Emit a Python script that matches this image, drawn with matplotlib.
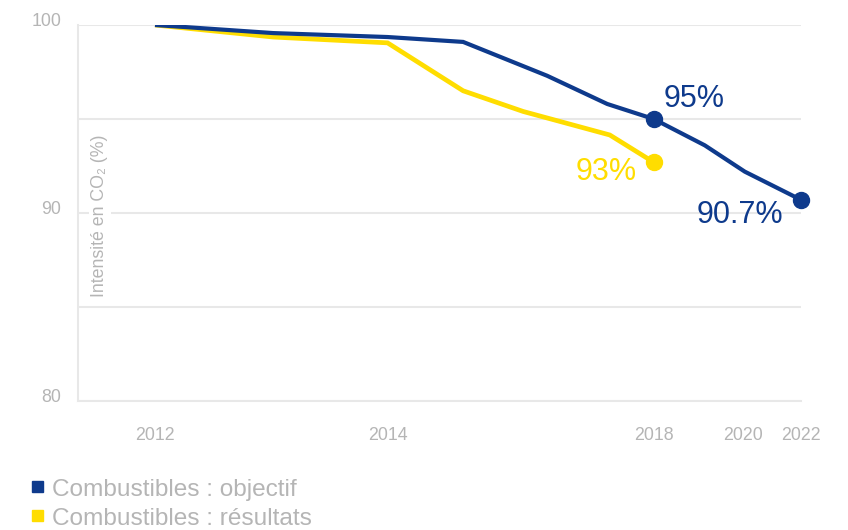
import numpy as np
import matplotlib
matplotlib.use('Agg')
import matplotlib.pyplot as plt
import matplotlib.transforms as mtransforms
from matplotlib.patches import Rectangle

plt.rcParams['font.family'] = ['Liberation Sans', 'DejaVu Sans']

## Data (x on a 0-100 position scale, 2012 -> 0, 2022 -> 100)
x_objectif = [0, 18.3, 36.0, 47.7, 60.7, 70.0, 77.2, 85.1, 91.3, 100]
y_objectif = [100, 99.57, 99.36, 99.1, 97.3, 95.8, 95.0, 93.6, 92.2, 90.7]

x_resultats = [0, 18.3, 36.0, 47.7, 57.0, 70.4, 77.2]
y_resultats = [100, 99.36, 99.05, 96.5, 95.4, 94.15, 92.7]

tick_pos = [0, 36.0, 77.2, 91.0, 100]
tick_labels = ['2012', '2014', '2018', '2020', '2022']

series_labels = ['Combustibles : objectif', 'Combustibles : résultats']
end_labels = ['95%', '93%', '90.7%']

blue = '#0E3A8C'
yellow = '#FFDD00'
grey = '#B5B5B5'
gridc = '#E8E8E8'

fig = plt.figure(figsize=(8.48, 5.30), dpi=100)
ax = fig.add_axes([78/848, 1-401/530, 723/848, 376/530])

ax.plot(x_objectif, y_objectif, color=blue, lw=3.0, solid_joinstyle='miter',
        solid_capstyle='butt', zorder=4)
ax.plot(x_resultats, y_resultats, color=yellow, lw=3.4, solid_joinstyle='miter',
        solid_capstyle='butt', zorder=3)

# end point dots
ax.plot(x_objectif[6], y_objectif[6], 'o', color=blue, ms=11.5, zorder=5, clip_on=False)
ax.plot(x_objectif[-1], y_objectif[-1], 'o', color=blue, ms=11.5, zorder=5, clip_on=False)
ax.plot(x_resultats[-1], y_resultats[-1], 'o', color=yellow, ms=11.5, zorder=5, clip_on=False)

ax.annotate(end_labels[0], (x_objectif[6], y_objectif[6]), xytext=(10, 20),
            textcoords='offset pixels', color=blue, fontsize=22, ha='left', va='center')
ax.annotate(end_labels[1], (x_resultats[-1], y_resultats[-1]), xytext=(-17, -10),
            textcoords='offset pixels', color=yellow, fontsize=22, ha='right', va='center')
ax.annotate(end_labels[2], (x_objectif[-1], y_objectif[-1]), xytext=(-18, -15),
            textcoords='offset pixels', color=blue, fontsize=22, ha='right', va='center')

ax.set_xlim(-11.92, 100)
ax.set_ylim(80, 100)

ax.set_xticks(tick_pos)
ax.set_xticklabels(tick_labels)
ax.set_yticks([80, 85, 90, 95, 100])
ax.set_yticklabels(['80', '', '90', '', '100'])
ax.tick_params(axis='x', length=0, pad=19, labelsize=12.8, labelcolor=grey)
ax.tick_params(axis='y', length=0, pad=12, labelsize=12.8, labelcolor=grey)
offset = mtransforms.ScaledTranslation(0, 5/100, fig.dpi_scale_trans)
for lab in ax.get_yticklabels():
    lab.set_transform(lab.get_transform() + offset)

ax.grid(axis='y', color=gridc, lw=1.5, zorder=0)
ax.grid(axis='x', visible=False)
for side in ['top', 'right']:
    ax.spines[side].set_visible(False)
for side in ['left', 'bottom']:
    ax.spines[side].set_color(gridc)
    ax.spines[side].set_linewidth(1.5)

ax.text(22/723, 0.492, 'Intensité en CO₂ (%)', transform=ax.transAxes, rotation=90,
        ha='center', va='center', fontsize=12.8, color=grey, zorder=2,
        bbox=dict(facecolor='white', edgecolor='none', pad=1.5))

# legend, drawn by hand under the chart
for i, (lab, col) in enumerate(zip(series_labels, [blue, yellow])):
    top = 481 + 29*i
    fig.patches.append(Rectangle((32/848, 1-(top+11)/530), 11/848, 11/530,
                                 transform=fig.transFigure, color=col))
    fig.text(52/848, 1-(496 + 29*i)/530, lab, fontsize=17.6, color=grey,
             ha='left', va='baseline')

fig.savefig('out.png', dpi=100)
